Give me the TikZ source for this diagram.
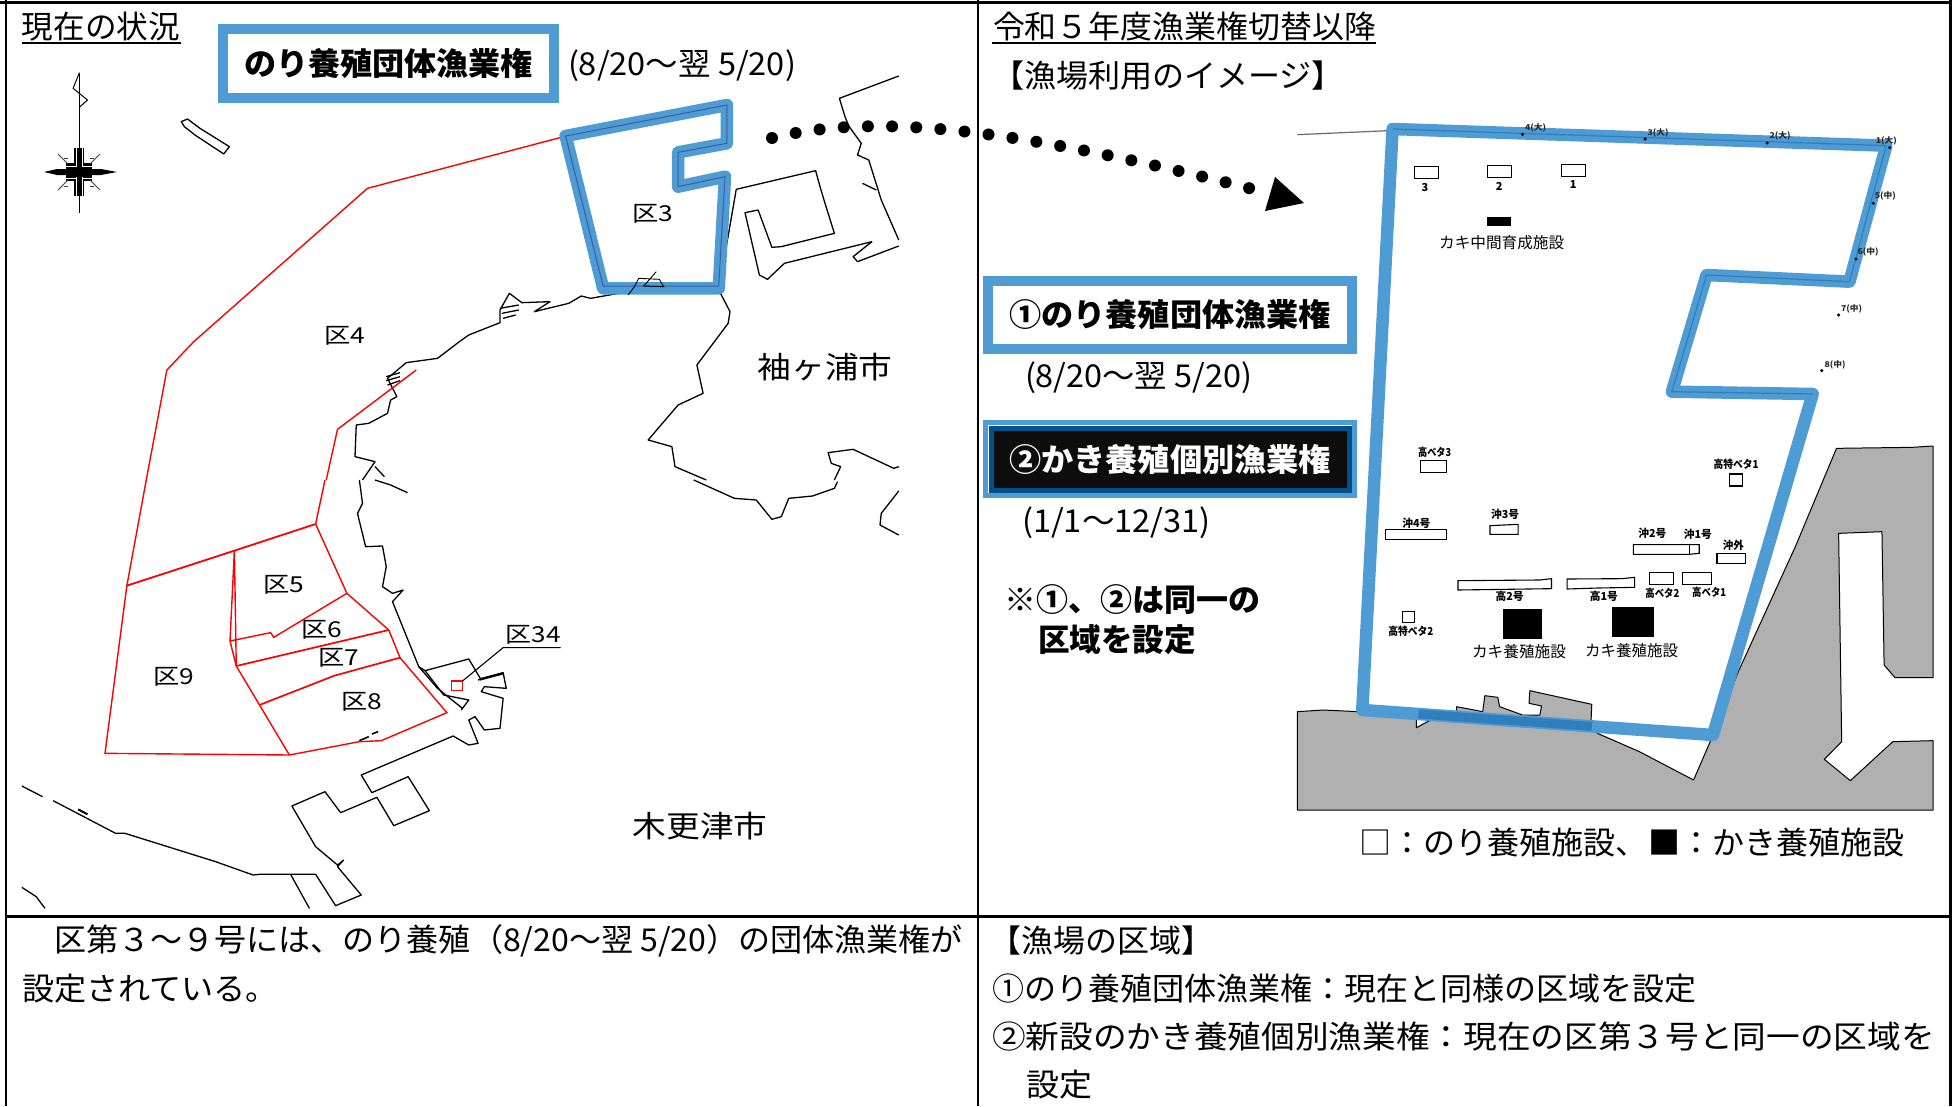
\documentclass[tikz,border=0pt]{standalone}
\usepackage{fontspec}
\usepackage{graphicx}
\setmainfont{Noto Sans CJK JP}
\definecolor{zone}{HTML}{4F9BD3}
\definecolor{zonedk}{HTML}{2F7FBE}
\definecolor{zonein}{HTML}{3A5F9F}
\definecolor{darkb}{HTML}{00508A}
\definecolor{land}{HTML}{B0B0B0}
\newcommand\fw[2]{\resizebox{#1pt}{\height}{#2}}
\tikzset{
  zA/.style={x=0.625pt,y=-0.33333pt},
  zC/.style={x=0.43304pt,y=-0.33333pt},
  coast/.style={black,line width=1.3pt,line join=round},
  redl/.style={red,line width=1.4pt,line join=miter},
  frameln/.style={black,line width=2pt},
  zoneln/.style={zone,line width=12.5pt,line join=round},
  tt/.style={inner sep=0pt,outer sep=0pt,font=\fontsize{31.5}{31.5}\selectfont,anchor=center},
  ttw/.style={tt,anchor=west},
  ttb/.style={tt,font=\fontsize{31.5}{31.5}\selectfont\bfseries},
  mapl/.style={tt,font=\fontsize{22}{22}\selectfont},
  small/.style={inner sep=0pt,outer sep=0pt,font=\fontsize{11}{11}\selectfont\bfseries},
  mid/.style={inner sep=0pt,outer sep=0pt,font=\fontsize{15.5}{15.5}\selectfont},
  tiny/.style={inner sep=0pt,outer sep=0pt,font=\fontsize{8}{8}\selectfont\bfseries,black!85},
  ptdot/.style={circle,fill=black,inner sep=0pt,minimum size=3.4pt},
  fac/.style={black,line width=1.1pt,fill=white},
  dotted line/.style={black,line width=12pt,line cap=round,dash pattern=on 0pt off 24.2pt},
  bluebox/.style={draw=zone,line width=10.5pt,fill=white,inner sep=0pt,outer sep=0pt,font=\fontsize{31.5}{31.5}\selectfont\bfseries},
}
\begin{document}
\begin{tikzpicture}[x=1pt,y=-1pt]
\useasboundingbox (0,0) rectangle (1959,1106);
\fill[white] (0,0) rectangle (1959,1106);

% ---------- left map ----------
\begin{scope}[zA]
\draw[black,line width=1pt] (127,218)--(127,638);
\draw[black,line width=1pt] (127,218)--(117,265)--(140,300)--(127,322);
\end{scope}
% compass rose
\fill[black] (74,148) rectangle (84,196);
\fill[black] (44,172)--(57,169)--(101,169)--(117,172)--(101,175)--(57,175)--cycle;
\fill[black] (66,163) rectangle (92,181);
\draw[white,line width=.7pt] (76,148)--(76,167) (82,148)--(82,167) (76,177)--(76,196) (82,177)--(82,196) (66,166)--(76,166)--(76,148) (92,166)--(82,166)--(82,148) (66,178)--(76,178)--(76,196) (92,178)--(82,178)--(82,196);
\draw[black!75,line width=1pt] (58,154)--(68,164) (100,154)--(90,164) (58,190)--(68,180) (100,190)--(90,180);
\draw[black!75,line width=.8pt] (64,158)--(68,158) (94,158)--(90,158) (64,186)--(68,186) (94,186)--(90,186);
\begin{scope}[zA]
\draw[coast] (290,365)--(300,357)--(320,385)--(367,440)--(358,462)--(312,405)--(295,380)--cycle;
\draw[coast] (1438,228)--(1343,295)--(1352,350)--(1358,378)--(1378,430)--(1372,465)--(1390,480)--(1410,600)--(1438,720);
\draw[coast] (1380,550)--(1402,570);
\draw[coast] (1150,870)--(1178,568)--(1305,512)--(1312,560)--(1320,610)--(1335,700)--(1250,740)--(1235,742)--(1213,630)--(1192,638)--(1215,825)--(1228,838)--(1255,790)--(1395,725)--(1365,770)--(1372,785)--(1438,738);
\draw[coast] (1150,870)--(1168,935)--(1165,970)--(1115,1095)--(1125,1180)--(1085,1215)--(1037,1320)--(1075,1340)--(1080,1400)--(1130,1440);
\draw[coast] (1438,1400)--(1430,1405)--(1365,1348)--(1325,1358)--(1330,1390)--(1345,1400)--(1335,1440);
\draw[coast] (1005,875)--(945,895)--(930,888)--(910,910)--(855,935)--(880,905)--(835,908)--(815,880)--(800,930)--(800,968)--(750,1005)--(735,1025)--(700,1075)--(650,1088)--(620,1135)--(635,1190)--(625,1200)--(620,1240)--(590,1270)--(570,1275)--(568,1370)--(600,1385)--(580,1440);
\draw[coast] (800,925)--(830,915) (803,940)--(830,930) (805,955)--(825,945);
\draw[coast] (618,1130)--(640,1118) (618,1142)--(640,1130) (620,1155)--(640,1142);
\draw[coast] (600,1400)--(615,1430);
\end{scope}
\begin{scope}[shift={(0,480)},zA]
\draw[coast] (1110,0)--(1175,55)--(1210,60)--(1235,118)--(1250,110)--(1262,55)--(1300,48)--(1335,25)--(1340,5);
\draw[coast] (1438,33)--(1410,100)--(1408,135)--(1438,165);
\draw[coast] (600,0)--(625,15)--(652,38);
\draw[coast] (575,0)--(580,70)--(572,100)--(585,200)--(612,198)--(618,260)--(612,320)--(628,340)--(645,330)--(628,365)--(670,560)--(680,572)--(750,537)--(770,600);
\draw[coast] (680,572)--(710,645)--(750,660)--(738,690);
\draw[coast] (670,560)--(700,625)--(740,685);
\draw[coast] (765,600)--(805,578)--(810,625)--(775,620)--(770,635)--(805,655)--(800,745)--(775,750)--(760,710)--(750,720)--(765,790)--(750,795)--(725,768)--(578,885)--(595,938)--(653,890)--(687,992)--(630,1037)--(603,952)--(545,998)--(520,935)--(467,978)--(505,1100)--(540,1155)--(550,1140)--(540,1160)--(578,1245)--(537,1277)--(505,1183)--(415,1183)--(405,1185)--(345,1145)--(200,1060)--(185,1060)--(85,962);
\draw[coast,line width=2.4pt] (768,598)--(805,580);
\draw[coast] (68,950)--(35,918);
\draw[coast] (35,1222)--(58,1250)--(72,1285);
\draw[coast] (465,1183)--(495,1285);
\draw[coast,line width=1.6pt] (575,782)--(590,770) (595,762)--(605,755);
\draw[coast,line width=2pt] (125,988)--(140,1003);
\draw[redl] (234,0)--(203,317)--(168,820)--(463,825)--(575,785)--(610,782)--(715,698)--(640,533)--(622,450)--(555,340)--(505,132)--(520,0);
\draw[redl,line width=1.8pt] (203,317)--(375,212)--(505,132);
\draw[redl] (375,212)--(368,483)--(378,558)--(463,825);
\draw[redl] (375,212)--(378,558);
\draw[redl] (368,483)--(433,458)--(438,472)--(555,340);
\draw[redl,line width=1.7pt] (378,558)--(622,450);
\draw[redl,line width=1.7pt] (415,675)--(535,587)--(640,533);
\draw[redl] (722,603) rectangle (740,631);
\coordinate (leadA) at (740,603);
\coordinate (leadB) at (805,503);
\coordinate (leadC) at (897,503);
\draw[black,line width=1.1pt] (leadA)--(leadB)--(leadC);
\end{scope}
\begin{scope}[zA]
\draw[redl] (898,412)--(588,565)--(310,1025)--(267,1110)--(234,1440);
\draw[redl] (522,1440)--(540,1288)--(666,1110);
\draw[zoneln] (905,408)--(1163,315)--(1163,430)--(1085,457)--(1085,560)--(1160,530)--(1150,865)--(965,865)--cycle;
\draw[zonein,line width=1pt] (905,408)--(1163,315)--(1163,430)--(1085,457)--(1085,560)--(1160,530)--(1150,858)--(965,858)--cycle;
\draw[black,line width=.9pt] (1005,885)--(1015,860)--(1022,835)--(1055,838)--(1062,860)--(1030,858)--(1050,815);
\end{scope}

% map labels
\node[mapl] (k3) at (653,214) {\fw{41}{区3}};
\node[mapl] (k4) at (345,336) {\fw{41}{区4}};
\node[mapl] (k5) at (284,585) {\fw{41}{区5}};
\node[mapl] (k6) at (322,630) {\fw{41}{区6}};
\node[mapl] (k7) at (339,658) {\fw{41}{区7}};
\node[mapl] (k8) at (362,702) {\fw{41}{区8}};
\node[mapl] (k9) at (174,677) {\fw{41}{区9}};
\node[mapl] (k34) at (533,635) {\fw{55}{区34}};
\node[tt,font=\fontsize{30}{30}\selectfont] (cSode) at (825,367) {\fw{135}{袖ヶ浦市}};
\node[tt,font=\fontsize{30}{30}\selectfont] (cKisa) at (700,826) {\fw{135}{木更津市}};

% ---------- dotted arrow ----------
\coordinate (dotS) at (772,138);
\coordinate (dotE) at (1268,193);
\draw[dotted line] (dotS) .. controls (870,114) and (1000,124) .. (dotE);
\fill[black] (1275,177)--(1304,203)--(1265,211)--cycle;

% ---------- right map ----------
\begin{scope}[shift={(1280,430)},zC]
\draw[black,line width=1pt,fill=land,line join=round] (40,1140)--(40,845)--(100,840)--(180,845)--(315,855)--(315,893)--(345,872)--(408,865)--(408,830)--(468,845)--(473,797)--(503,802)--(507,830)--(560,855)--(600,855)--(604,828)--(575,820)--(577,782)--(720,823)--(718,880)--(733,910)--(830,965)--(955,1050)--(1000,915)--(1060,720)--(1190,350)--(1285,55)--(1460,52)--(1508,48)--(1508,743)--(1420,743)--(1395,705)--(1390,305)--(1290,310)--(1297,935)--(1257,988)--(1317,1052)--(1415,935)--(1508,932)--(1508,1140)--cycle;
\draw[fac] (243,299) rectangle (385,328);
\draw[fac] (485,287)--(550,283)--(550,313)--(485,313)--cycle;
\draw[fac] (816,344)--(968,344)--(968,370)--(945,373)--(816,373)--cycle;
\draw[black,line width=1pt] (945,344)--(945,373);
\draw[fac] (1009,370) rectangle (1074,400);
\draw[fac] (411,452)--(600,450)--(627,446)--(627,476)--(411,480)--cycle;
\draw[fac] (663,447)--(790,446)--(819,442)--(819,472)--(735,474)--(663,477)--cycle;
\draw[fac] (854,428) rectangle (909,463);
\draw[fac] (930,427) rectangle (996,463);
\draw[fac] (283,545) rectangle (310,578);
\draw[fac] (324,92) rectangle (385,127);
\draw[fac] (1038,132) rectangle (1067,168);
\fill[black] (515,536) rectangle (604,626);
\fill[black] (767,530) rectangle (864,620);
\node[small] (lOki4) at (315,280) {\fw{28}{沖4号}};
\node[small] (lOki3) at (520,253) {\fw{28}{沖3号}};
\node[small] (lOki2) at (860,311) {\fw{28}{沖2号}};
\node[small] (lOki1) at (965,314) {\fw{28}{沖1号}};
\node[small] (lOkiS) at (1047,347) {\fw{21}{沖外}};
\node[small] (lTaka2) at (530,500) {\fw{28}{高2号}};
\node[small] (lTaka1) at (748,500) {\fw{28}{高1号}};
\node[small] (lBeta2) at (883,490) {\fw{34}{高ベタ2}};
\node[small] (lBeta1) at (991,488) {\fw{34}{高ベタ1}};
\node[small] (lTok2) at (302,604) {\fw{45}{高特ベタ2}};
\node[small] (lBeta3) at (357,67) {\fw{33}{高ベタ3}};
\node[small] (lTok1) at (1053,103) {\fw{45}{高特ベタ1}};
\node[mid] (lKaki1) at (552,664) {\fw{94}{カキ養殖施設}};
\node[mid] (lKaki2) at (812,661) {\fw{93}{カキ養殖施設}};
\end{scope}
\begin{scope}[shift={(1280,100)},zC]
\draw[land!60!black,line width=1.2pt] (40,104)--(250,92);
\draw[fac] (310,200) rectangle (365,236);
\draw[fac] (480,196) rectangle (535,232);
\draw[fac] (651,193) rectangle (705,229);
\fill[black] (479,352) rectangle (533,377);
\node[small] (l3) at (335,262) {3};
\node[small] (l2) at (506,258) {2};
\node[small] (l1) at (677,255) {1};
\node[mid] (lNaka) at (512,428) {\fw{125}{カキ中間育成施設}};
% district boundary
\draw[zoneln] (260,87)--(1400,137)--(1315,545)--(985,525)--(905,875)--(1230,882)--(1000,1905)--(190,1830)--cycle;
\draw[zonedk,line width=1.2pt] (260,87)--(1400,137)--(1315,545)--(985,525)--(905,875)--(1230,882);
\draw[zonedk,line width=9pt] (320,1842)--(720,1879);
% survey points
\foreach \n/\tx/\lx/\ly/\dx/\dy in {4/4(大)/590/85/560/103,3/3(大)/873/98/843/117,2/2(大)/1155/108/1125/129,1/1(大)/1400/122/1408/143,5/5(中)/1398/288/1370/310,6/6(中)/1358/456/1330/477,7/7(中)/1320/626/1290/645,8/8(中)/1282/794/1251/812}{
  \node[ptdot] (pd\n) at (\dx,\dy) {};
  \node[tiny] (pl\n) at (\lx,\ly) {\fw{21}{\tx}};
}
\end{scope}

% ---------- panel headings ----------
\node[ttw] (hL) at (22,27) {\fw{158}{現在の状況}};
\draw[black,line width=2.5pt] (22,43)--(181,43);
\node[ttw] (hR) at (993,27) {\fw{383}{令和５年度漁業権切替以降}};
\draw[black,line width=2.5pt] (992,43)--(1376,43);
\node[ttw] (hR2) at (992,76) {\fw{352}{【漁場利用のイメージ】}};

% ---------- boxes ----------
\node[bluebox,minimum width=331pt,minimum height=69pt] (boxA) at (388.5,63.5) {\fw{289}{のり養殖団体漁業権}};
\node[ttw] (dateA) at (568,66) {\fw{228}{(8/20～翌 5/20)}};
\node[bluebox,minimum width=364pt,minimum height=68pt] (boxB) at (1170,315) {\fw{322}{①のり養殖団体漁業権}};
\node[ttw] (dateB) at (1025,378) {\fw{227}{(8/20～翌 5/20)}};
\node[bluebox,line width=5pt,minimum width=369pt,minimum height=73pt] (boxC) at (1170,459) {};
\node[draw=darkb,line width=5pt,fill=black!95,inner sep=0pt,outer sep=0pt,minimum width=358pt,minimum height=62pt,text=white,font=\fontsize{31.5}{31.5}\selectfont\bfseries] (boxD) at (1170,459.5) {\fw{322}{②かき養殖個別漁業権}};
\node[ttw] (dateC) at (1022,523) {\fw{189}{(1/1～12/31)}};
\node[ttb,anchor=west] (noteA) at (1004,600) {\fw{256}{※①、②は同一の}};
\node[ttb,anchor=west] (noteB) at (1038,640) {\fw{158}{区域を設定}};
\node[tt] (legend) at (1632,843) {\fw{545}{□：のり養殖施設、■：かき養殖施設}};

% ---------- table text ----------
\node[ttw] (bL1) at (22,941) {\fw{941}{　区第３～９号には、のり養殖（8/20～翌 5/20）の団体漁業権が}};
\node[ttw] (bL2) at (22,989) {\fw{256}{設定されている。}};
\node[ttw] (bR1) at (989,941) {\fw{224}{【漁場の区域】}};
\node[ttw] (bR2) at (992,989) {\fw{705}{①のり養殖団体漁業権：現在と同様の区域を設定}};
\node[ttw] (bR3) at (992,1037) {\fw{943}{②新設のかき養殖個別漁業権：現在の区第３号と同一の区域を}};
\node[ttw] (bR4) at (1026,1085) {\fw{66}{設定}};

% ---------- frame ----------
\draw[black,line width=3pt] (0,2)--(1950,2);
\draw[frameln] (6,0)--(6,1106);
\draw[frameln] (978,0)--(978,1106);
\draw[black,line width=3pt] (1950,0)--(1950,1106);
\draw[black,line width=3pt] (6,916)--(1950,916);
\end{tikzpicture}
\end{document}
